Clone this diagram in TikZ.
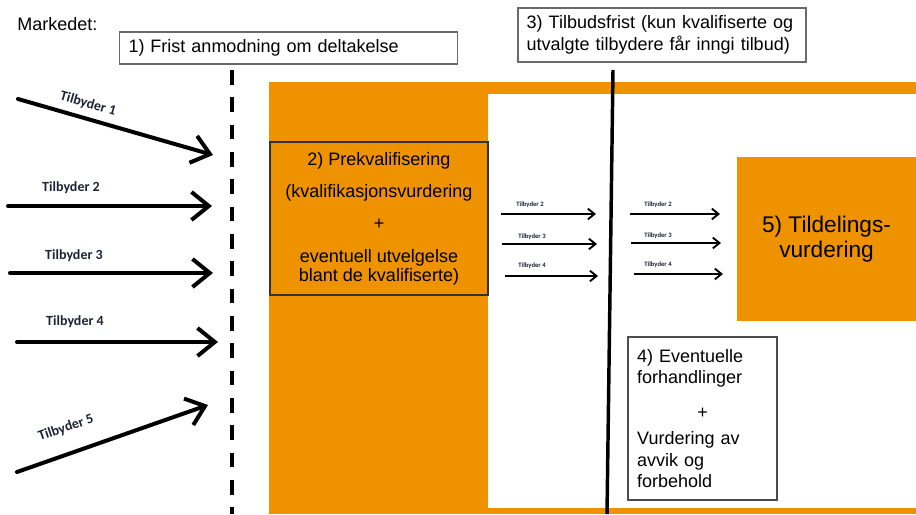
\documentclass[tikz,border=0pt]{standalone}
\usepackage{fontspec}
\setmainfont{Liberation Sans}
\newfontfamily\tilbfont{Carlito}
\usetikzlibrary{arrows.meta}

\begin{document}
\begin{tikzpicture}[x=0.75pt,y=-0.75pt,
    bigarrow/.style={line width=3pt,line cap=round,-{Straight Barb[length=13pt,width=21pt]}},
    smallarrow/.style={line width=1.4pt,-{Straight Barb[length=5pt,width=8pt]}},
    biglabel/.style={font=\tilbfont\bfseries\fontsize{10.5}{12}\selectfont,text=tab_ink,inner sep=0pt},
    smalllabel/.style={font=\tilbfont\bfseries\fontsize{5}{6}\selectfont,text=tab_ink,inner sep=0pt},
    greybox/.style={draw=tab_grey,line width=0.9pt,fill=white,font=\fontsize{13.5}{16}\selectfont}]
    \definecolor{tab_orange}{HTML}{EE9200}
    \definecolor{tab_grey}{HTML}{6A6A6A}
    \definecolor{tab_ink}{HTML}{1E2233}
    %\draw[help lines,step=50] (0,0) grid (916,514);
    \useasboundingbox (0,0) rectangle (916,514);
    \path[fill=tab_orange] (269,82) rectangle (916,514);
    \path[fill=white] (488,94) rectangle (916,508);

    \node[anchor=base west,inner sep=0pt,font=\fontsize{13.5}{16}\selectfont] (markedet) at (17,30) {Markedet:};
    \node[greybox,minimum width=254pt,minimum height=24pt,text width=240pt,inner xsep=7pt,align=left] (frist) at (288.5,48) {1) Frist anmodning om deltakelse};
    \node[greybox,minimum width=216pt,minimum height=40.5pt,text width=203pt,inner xsep=6.5pt,align=left] (tilbudsfrist) at (662,35) {3) Tilbudsfrist (kun kvalifiserte og\\ utvalgte tilbydere får inngi tilbud)};

    % frister
    \coordinate (dashtop) at (232,70);
    \coordinate (dashbot) at (232,514);
    \draw[line width=3pt,dash pattern=on 11pt off 9.5pt] (dashtop) -- (dashbot);
    \coordinate (soltop) at (613,70);
    \coordinate (solbot) at (607,514);
    \draw[line width=2.6pt] (soltop) -- (solbot);

    \node[draw=black!80,line width=0.9pt,fill=tab_orange,minimum width=163.5pt,minimum height=114.75pt,align=center,font=\fontsize{13.5}{14}\selectfont] (prekval) at (379,218.5) {2) Prekvalifisering\\[10pt] (kvalifikasjonsvurdering\\[10pt] +\\[11pt] eventuell utvelgelse\\ blant de kvalifiserte)};
    \node[fill=tab_orange,minimum width=134.25pt,minimum height=123pt,align=center,font=\fontsize{17}{19}\selectfont] (tildeling) at (826.5,239) {5) Tildelings-\\ vurdering};
    \node[greybox,draw=black!70,minimum width=111.75pt,minimum height=122.25pt,text width=98pt,inner xsep=6.8pt,align=left] (forhandling) at (702.5,418.5) {4) Eventuelle\\ forhandlinger\\[10pt] \makebox[98pt]{+}\\[4pt] Vurdering av\\ avvik og\\ forbehold};

    % tilbydere i markedet
    \coordinate (t1s) at (18,99);
    \coordinate (t1e) at (213,155);
    \coordinate (t2s) at (8,206);
    \coordinate (t2e) at (212,206);
    \coordinate (t3s) at (10,273);
    \coordinate (t3e) at (213,273);
    \coordinate (t4s) at (17,342);
    \coordinate (t4e) at (218,342);
    \coordinate (t5s) at (17,472);
    \coordinate (t5e) at (208,405);
    \draw[bigarrow] (t1s) -- (t1e);
    \draw[bigarrow] (t2s) -- (t2e);
    \draw[bigarrow] (t3s) -- (t3e);
    \draw[bigarrow] (t4s) -- (t4e);
    \draw[bigarrow] (t5s) -- (t5e);
    \node[biglabel,rotate=-16] (tilb1) at (88,104) {Tilbyder 1};
    \node[biglabel] (tilb2) at (71,188) {Tilbyder 2};
    \node[biglabel] (tilb3) at (74,256) {Tilbyder 3};
    \node[biglabel] (tilb4) at (75,322) {Tilbyder 4};
    \node[biglabel,rotate=19] (tilb5) at (66,428) {Tilbyder 5};

    % kvalifiserte tilbydere
    \coordinate (a2s) at (501,214);
    \coordinate (a2e) at (596,214);
    \coordinate (a3s) at (502,244);
    \coordinate (a3e) at (597,244);
    \coordinate (a4s) at (505,276);
    \coordinate (a4e) at (598,276);
    \coordinate (b2s) at (630,214);
    \coordinate (b2e) at (720,214);
    \coordinate (b3s) at (631,243);
    \coordinate (b3e) at (721,243);
    \coordinate (b4s) at (634,274);
    \coordinate (b4e) at (723,274);
    \draw[smallarrow] (a2s) -- (a2e);
    \draw[smallarrow] (a3s) -- (a3e);
    \draw[smallarrow] (a4s) -- (a4e);
    \draw[smallarrow] (b2s) -- (b2e);
    \draw[smallarrow] (b3s) -- (b3e);
    \draw[smallarrow] (b4s) -- (b4e);
    \node[smalllabel] (kval2) at (530,205) {Tilbyder 2};
    \node[smalllabel] (kval3) at (532,237) {Tilbyder 3};
    \node[smalllabel] (kval4) at (532,266) {Tilbyder 4};
    \node[smalllabel] (tilbud2) at (658,205) {Tilbyder 2};
    \node[smalllabel] (tilbud3) at (658,236) {Tilbyder 3};
    \node[smalllabel] (tilbud4) at (658,265) {Tilbyder 4};
\end{tikzpicture}
\end{document}
